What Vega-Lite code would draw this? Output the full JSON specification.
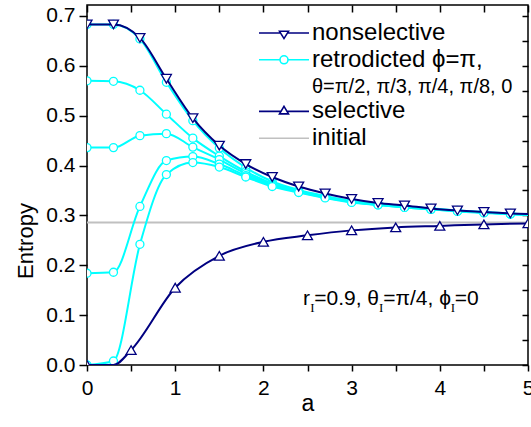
{
  "$schema": "https://vega.github.io/schema/vega-lite/v6.json",
  "width": 441,
  "height": 360,
  "autosize": {"type": "none"},
  "padding": {"left": 87, "top": 5, "right": 3, "bottom": 62},
  "background": "white",
  "config": {
    "view": {"stroke": "black", "strokeWidth": 1.5},
    "font": "Liberation Sans",
    "axis": {
      "labelFont": "Liberation Sans", "labelFontSize": 21, "labelColor": "black",
      "titleFont": "Liberation Sans", "titleFontWeight": "normal", "titleColor": "black",
      "tickColor": "black", "tickWidth": 1.5, "domain": false, "grid": false,
      "labelOverlap": false, "labelFlush": false, "labelBound": false
    }
  },
  "datasets": {
    "curves": [
      {"series": "nonselective", "kind": "nonselective", "a": 0.0, "S": 0.683},
      {"series": "nonselective", "kind": "nonselective", "a": 0.3, "S": 0.683},
      {"series": "nonselective", "kind": "nonselective", "a": 0.6, "S": 0.656},
      {"series": "nonselective", "kind": "nonselective", "a": 0.9, "S": 0.574},
      {"series": "nonselective", "kind": "nonselective", "a": 1.2, "S": 0.495},
      {"series": "nonselective", "kind": "nonselective", "a": 1.5, "S": 0.440},
      {"series": "nonselective", "kind": "nonselective", "a": 1.8, "S": 0.403},
      {"series": "nonselective", "kind": "nonselective", "a": 2.1, "S": 0.377},
      {"series": "nonselective", "kind": "nonselective", "a": 2.4, "S": 0.358},
      {"series": "nonselective", "kind": "nonselective", "a": 2.7, "S": 0.344},
      {"series": "nonselective", "kind": "nonselective", "a": 3.0, "S": 0.333},
      {"series": "nonselective", "kind": "nonselective", "a": 3.3, "S": 0.325},
      {"series": "nonselective", "kind": "nonselective", "a": 3.6, "S": 0.320},
      {"series": "nonselective", "kind": "nonselective", "a": 3.9, "S": 0.314},
      {"series": "nonselective", "kind": "nonselective", "a": 4.2, "S": 0.310},
      {"series": "nonselective", "kind": "nonselective", "a": 4.5, "S": 0.307},
      {"series": "nonselective", "kind": "nonselective", "a": 4.8, "S": 0.304},
      {"series": "nonselective", "kind": "nonselective", "a": 5.0, "S": 0.303},

      {"series": "θ=π/2", "kind": "retrodicted", "a": 0.0, "S": 0.683},
      {"series": "θ=π/2", "kind": "retrodicted", "a": 0.3, "S": 0.683},
      {"series": "θ=π/2", "kind": "retrodicted", "a": 0.6, "S": 0.654},
      {"series": "θ=π/2", "kind": "retrodicted", "a": 0.9, "S": 0.567},
      {"series": "θ=π/2", "kind": "retrodicted", "a": 1.2, "S": 0.490},
      {"series": "θ=π/2", "kind": "retrodicted", "a": 1.5, "S": 0.435},
      {"series": "θ=π/2", "kind": "retrodicted", "a": 1.8, "S": 0.396},
      {"series": "θ=π/2", "kind": "retrodicted", "a": 2.1, "S": 0.368},
      {"series": "θ=π/2", "kind": "retrodicted", "a": 2.4, "S": 0.351},
      {"series": "θ=π/2", "kind": "retrodicted", "a": 2.7, "S": 0.339},
      {"series": "θ=π/2", "kind": "retrodicted", "a": 3.0, "S": 0.329},
      {"series": "θ=π/2", "kind": "retrodicted", "a": 3.3, "S": 0.323},
      {"series": "θ=π/2", "kind": "retrodicted", "a": 3.6, "S": 0.318},
      {"series": "θ=π/2", "kind": "retrodicted", "a": 3.9, "S": 0.314},
      {"series": "θ=π/2", "kind": "retrodicted", "a": 4.2, "S": 0.310},
      {"series": "θ=π/2", "kind": "retrodicted", "a": 4.5, "S": 0.307},
      {"series": "θ=π/2", "kind": "retrodicted", "a": 4.8, "S": 0.304},
      {"series": "θ=π/2", "kind": "retrodicted", "a": 5.0, "S": 0.302},

      {"series": "θ=π/3", "kind": "retrodicted", "a": 0.0, "S": 0.570},
      {"series": "θ=π/3", "kind": "retrodicted", "a": 0.3, "S": 0.569},
      {"series": "θ=π/3", "kind": "retrodicted", "a": 0.6, "S": 0.551},
      {"series": "θ=π/3", "kind": "retrodicted", "a": 0.9, "S": 0.503},
      {"series": "θ=π/3", "kind": "retrodicted", "a": 1.2, "S": 0.455},
      {"series": "θ=π/3", "kind": "retrodicted", "a": 1.5, "S": 0.419},
      {"series": "θ=π/3", "kind": "retrodicted", "a": 1.8, "S": 0.388},
      {"series": "θ=π/3", "kind": "retrodicted", "a": 2.1, "S": 0.364},
      {"series": "θ=π/3", "kind": "retrodicted", "a": 2.4, "S": 0.349},
      {"series": "θ=π/3", "kind": "retrodicted", "a": 2.7, "S": 0.338},
      {"series": "θ=π/3", "kind": "retrodicted", "a": 3.0, "S": 0.328},
      {"series": "θ=π/3", "kind": "retrodicted", "a": 3.3, "S": 0.322},
      {"series": "θ=π/3", "kind": "retrodicted", "a": 3.6, "S": 0.317},
      {"series": "θ=π/3", "kind": "retrodicted", "a": 3.9, "S": 0.313},
      {"series": "θ=π/3", "kind": "retrodicted", "a": 4.2, "S": 0.309},
      {"series": "θ=π/3", "kind": "retrodicted", "a": 4.5, "S": 0.306},
      {"series": "θ=π/3", "kind": "retrodicted", "a": 4.8, "S": 0.303},
      {"series": "θ=π/3", "kind": "retrodicted", "a": 5.0, "S": 0.302},

      {"series": "θ=π/4", "kind": "retrodicted", "a": 0.0, "S": 0.436},
      {"series": "θ=π/4", "kind": "retrodicted", "a": 0.3, "S": 0.436},
      {"series": "θ=π/4", "kind": "retrodicted", "a": 0.6, "S": 0.460},
      {"series": "θ=π/4", "kind": "retrodicted", "a": 0.9, "S": 0.464},
      {"series": "θ=π/4", "kind": "retrodicted", "a": 1.2, "S": 0.437},
      {"series": "θ=π/4", "kind": "retrodicted", "a": 1.5, "S": 0.412},
      {"series": "θ=π/4", "kind": "retrodicted", "a": 1.8, "S": 0.384},
      {"series": "θ=π/4", "kind": "retrodicted", "a": 2.1, "S": 0.362},
      {"series": "θ=π/4", "kind": "retrodicted", "a": 2.4, "S": 0.348},
      {"series": "θ=π/4", "kind": "retrodicted", "a": 2.7, "S": 0.337},
      {"series": "θ=π/4", "kind": "retrodicted", "a": 3.0, "S": 0.327},
      {"series": "θ=π/4", "kind": "retrodicted", "a": 3.3, "S": 0.322},
      {"series": "θ=π/4", "kind": "retrodicted", "a": 3.6, "S": 0.317},
      {"series": "θ=π/4", "kind": "retrodicted", "a": 3.9, "S": 0.313},
      {"series": "θ=π/4", "kind": "retrodicted", "a": 4.2, "S": 0.309},
      {"series": "θ=π/4", "kind": "retrodicted", "a": 4.5, "S": 0.306},
      {"series": "θ=π/4", "kind": "retrodicted", "a": 4.8, "S": 0.303},
      {"series": "θ=π/4", "kind": "retrodicted", "a": 5.0, "S": 0.302},

      {"series": "θ=π/8", "kind": "retrodicted", "a": 0.0, "S": 0.184},
      {"series": "θ=π/8", "kind": "retrodicted", "a": 0.3, "S": 0.186},
      {"series": "θ=π/8", "kind": "retrodicted", "a": 0.6, "S": 0.318},
      {"series": "θ=π/8", "kind": "retrodicted", "a": 0.9, "S": 0.410},
      {"series": "θ=π/8", "kind": "retrodicted", "a": 1.2, "S": 0.418},
      {"series": "θ=π/8", "kind": "retrodicted", "a": 1.5, "S": 0.403},
      {"series": "θ=π/8", "kind": "retrodicted", "a": 1.8, "S": 0.380},
      {"series": "θ=π/8", "kind": "retrodicted", "a": 2.1, "S": 0.360},
      {"series": "θ=π/8", "kind": "retrodicted", "a": 2.4, "S": 0.347},
      {"series": "θ=π/8", "kind": "retrodicted", "a": 2.7, "S": 0.336},
      {"series": "θ=π/8", "kind": "retrodicted", "a": 3.0, "S": 0.327},
      {"series": "θ=π/8", "kind": "retrodicted", "a": 3.3, "S": 0.321},
      {"series": "θ=π/8", "kind": "retrodicted", "a": 3.6, "S": 0.316},
      {"series": "θ=π/8", "kind": "retrodicted", "a": 3.9, "S": 0.312},
      {"series": "θ=π/8", "kind": "retrodicted", "a": 4.2, "S": 0.309},
      {"series": "θ=π/8", "kind": "retrodicted", "a": 4.5, "S": 0.306},
      {"series": "θ=π/8", "kind": "retrodicted", "a": 4.8, "S": 0.303},
      {"series": "θ=π/8", "kind": "retrodicted", "a": 5.0, "S": 0.301},

      {"series": "θ=0", "kind": "retrodicted", "a": 0.0, "S": 0.000},
      {"series": "θ=0", "kind": "retrodicted", "a": 0.3, "S": 0.008},
      {"series": "θ=0", "kind": "retrodicted", "a": 0.6, "S": 0.242},
      {"series": "θ=0", "kind": "retrodicted", "a": 0.9, "S": 0.382},
      {"series": "θ=0", "kind": "retrodicted", "a": 1.2, "S": 0.406},
      {"series": "θ=0", "kind": "retrodicted", "a": 1.5, "S": 0.397},
      {"series": "θ=0", "kind": "retrodicted", "a": 1.8, "S": 0.377},
      {"series": "θ=0", "kind": "retrodicted", "a": 2.1, "S": 0.358},
      {"series": "θ=0", "kind": "retrodicted", "a": 2.4, "S": 0.346},
      {"series": "θ=0", "kind": "retrodicted", "a": 2.7, "S": 0.335},
      {"series": "θ=0", "kind": "retrodicted", "a": 3.0, "S": 0.326},
      {"series": "θ=0", "kind": "retrodicted", "a": 3.3, "S": 0.321},
      {"series": "θ=0", "kind": "retrodicted", "a": 3.6, "S": 0.316},
      {"series": "θ=0", "kind": "retrodicted", "a": 3.9, "S": 0.312},
      {"series": "θ=0", "kind": "retrodicted", "a": 4.2, "S": 0.308},
      {"series": "θ=0", "kind": "retrodicted", "a": 4.5, "S": 0.305},
      {"series": "θ=0", "kind": "retrodicted", "a": 4.8, "S": 0.303},
      {"series": "θ=0", "kind": "retrodicted", "a": 5.0, "S": 0.301},

      {"series": "selective", "kind": "selective", "a": 0.0, "S": 0.000},
      {"series": "selective", "kind": "selective", "a": 0.3, "S": 0.000},
      {"series": "selective", "kind": "selective", "a": 0.5, "S": 0.030},
      {"series": "selective", "kind": "selective", "a": 1.0, "S": 0.155},
      {"series": "selective", "kind": "selective", "a": 1.5, "S": 0.219},
      {"series": "selective", "kind": "selective", "a": 2.0, "S": 0.247},
      {"series": "selective", "kind": "selective", "a": 2.5, "S": 0.260},
      {"series": "selective", "kind": "selective", "a": 3.0, "S": 0.270},
      {"series": "selective", "kind": "selective", "a": 3.5, "S": 0.276},
      {"series": "selective", "kind": "selective", "a": 4.0, "S": 0.279},
      {"series": "selective", "kind": "selective", "a": 4.5, "S": 0.282},
      {"series": "selective", "kind": "selective", "a": 5.0, "S": 0.284},

      {"series": "initial", "kind": "initial", "a": 0.0, "S": 0.286},
      {"series": "initial", "kind": "initial", "a": 5.0, "S": 0.286}
    ]
  },
  "layer": [
    {
      "data": {"name": "curves"},
      "transform": [{"filter": "datum.kind == 'initial'"}],
      "mark": {"type": "line", "stroke": "#c0c0c0", "strokeWidth": 2, "clip": true},
      "encoding": {
        "x": {
          "field": "a", "type": "quantitative",
          "scale": {"domain": [0, 5], "nice": false, "zero": false},
          "axis": {"orient": "top", "values": [0, 0.5, 1, 1.5, 2, 2.5, 3, 3.5, 4, 4.5, 5], "labels": false, "tickSize": -7, "title": null}
        },
        "y": {
          "field": "S", "type": "quantitative",
          "scale": {"domain": [0, 0.722], "nice": false, "zero": false},
          "axis": {"orient": "right", "values": [0, 0.05, 0.1, 0.15, 0.2, 0.25, 0.3, 0.35, 0.4, 0.45, 0.5, 0.55, 0.6, 0.65, 0.7], "labels": false, "tickSize": -6, "title": null}
        }
      }
    },
    {
      "layer": [
        {
          "data": {"name": "curves"},
          "transform": [{"filter": "datum.kind == 'retrodicted'"}],
          "mark": {"type": "line", "stroke": "#00ffff", "strokeWidth": 2, "interpolate": "monotone", "clip": true},
          "encoding": {
            "x": {
              "field": "a", "type": "quantitative",
              "scale": {"domain": [0, 5], "nice": false, "zero": false},
              "axis": {
                "orient": "bottom",
                "values": [0, 0.5, 1, 1.5, 2, 2.5, 3, 3.5, 4, 4.5, 5],
                "labelExpr": "datum.value % 1 == 0 ? format(datum.value, 'd') : ''",
                "tickSize": 6, "labelPadding": 6,
                "title": "a", "titleFontSize": 23, "titleX": 220.5, "titleY": 45.5, "titleBaseline": "alphabetic", "titleAlign": "center"
              }
            },
            "y": {
              "field": "S", "type": "quantitative",
              "scale": {"domain": [0, 0.722], "nice": false, "zero": false},
              "axis": {
                "orient": "left",
                "values": [0, 0.05, 0.1, 0.15, 0.2, 0.25, 0.3, 0.35, 0.4, 0.45, 0.5, 0.55, 0.6, 0.65, 0.7],
                "labelExpr": "abs(datum.value * 10 - round(datum.value * 10)) < 0.001 ? format(datum.value, '.1f') : ''",
                "tickSize": {"condition": {"test": "abs(datum.value * 10 - round(datum.value * 10)) < 0.001", "value": 8}, "value": 5},
                "labelPadding": 4,
                "title": "Entropy", "titleFontSize": 22, "titleAngle": -90, "titleX": -54.5, "titleY": 235.5, "titleBaseline": "alphabetic", "titleAlign": "center"
              }
            },
            "detail": {"field": "series"}
          }
        },
        {
          "data": {"name": "curves"},
          "transform": [{"filter": "datum.kind == 'retrodicted' && datum.a < 4.9"}],
          "mark": {"type": "point", "shape": "circle", "size": 64, "filled": true, "fill": "white", "stroke": "#00ffff", "strokeWidth": 1.3, "opacity": 1, "clip": true},
          "encoding": {
            "x": {"field": "a", "type": "quantitative"},
            "y": {"field": "S", "type": "quantitative"}
          }
        },
        {
          "data": {"name": "curves"},
          "transform": [{"filter": "datum.kind == 'nonselective'"}],
          "mark": {"type": "line", "stroke": "#000080", "strokeWidth": 2, "interpolate": "monotone", "clip": true},
          "encoding": {
            "x": {"field": "a", "type": "quantitative"},
            "y": {"field": "S", "type": "quantitative"}
          }
        },
        {
          "data": {"name": "curves"},
          "transform": [{"filter": "datum.kind == 'nonselective' && datum.a < 4.9"}],
          "mark": {"type": "point", "shape": "triangle-down", "size": 100, "filled": true, "fill": "white", "stroke": "#000080", "strokeWidth": 1.3, "opacity": 1, "clip": true},
          "encoding": {
            "x": {"field": "a", "type": "quantitative"},
            "y": {"field": "S", "type": "quantitative"}
          }
        },
        {
          "data": {"name": "curves"},
          "transform": [{"filter": "datum.kind == 'selective'"}],
          "mark": {"type": "line", "stroke": "#000080", "strokeWidth": 2, "interpolate": "monotone", "clip": true},
          "encoding": {
            "x": {"field": "a", "type": "quantitative"},
            "y": {"field": "S", "type": "quantitative"}
          }
        },
        {
          "data": {"name": "curves"},
          "transform": [{"filter": "datum.kind == 'selective' && datum.a != 0.3"}],
          "mark": {"type": "point", "shape": "triangle-up", "size": 100, "filled": true, "fill": "white", "stroke": "#000080", "strokeWidth": 1.3, "opacity": 1, "clip": true},
          "encoding": {
            "x": {"field": "a", "type": "quantitative"},
            "y": {"field": "S", "type": "quantitative"}
          }
        },
        {
          "data": {"name": "curves"},
          "mark": {"type": "point", "filled": true, "fill": "white", "opacity": 0, "strokeWidth": 1.6},
          "encoding": {
            "x": {"field": "a", "type": "quantitative"},
            "y": {"field": "S", "type": "quantitative"},
            "shape": {
              "field": "kind", "type": "nominal",
              "scale": {
                "domain": ["nonselective", "retrodicted", "theta", "selective", "initial"],
                "range": [
                  "M-5,0L-0.7,0M0.7,0L5,0M-0.9,-0.34L0.9,-0.34L0,1.12Z",
                  "M-5,0L-0.8,0M0.8,0L5,0M-0.8,0A0.8,0.8,0,1,1,0.8,0A0.8,0.8,0,1,1,-0.8,0Z",
                  "M0,0",
                  "M-5,0L-0.6,0M0.6,0L5,0M0,-1L0.9,0.5L-0.9,0.5Z",
                  "M-5,0L5,0"
                ]
              },
              "legend": {
                "orient": "none", "legendX": 165, "legendY": 16, "title": null, "padding": 0,
                "symbolSize": 100, "symbolStrokeWidth": 1.6, "symbolOffset": 20, "symbolFillColor": "white", "symbolOpacity": 1,
                "labelOffset": 16, "labelFont": "Liberation Sans", "labelColor": "black", "labelLimit": 400,
                "labelFontSize": {"expr": "datum.value == 'theta' ? 20 : 24"},
                "rowPadding": 2.8,
                "labelExpr": "datum.value == 'retrodicted' ? 'retrodicted ϕ=π,' : datum.value == 'theta' ? 'θ=π/2, π/3, π/4, π/8, 0' : datum.label"
              }
            },
            "stroke": {
              "field": "kind", "type": "nominal",
              "scale": {
                "domain": ["nonselective", "retrodicted", "theta", "selective", "initial"],
                "range": ["#000080", "#00ffff", "rgba(0,0,0,0)", "#000080", "#c0c0c0"]
              }
            }
          }
        },
        {
          "data": {"values": [{}]},
          "mark": {"type": "text", "text": "r", "align": "left", "baseline": "alphabetic", "fontSize": 21, "font": "Liberation Sans", "color": "black"},
          "encoding": {"x": {"datum": 2.449}, "y": {"datum": 0.1195}}
        },
        {
          "data": {"values": [{}]},
          "mark": {"type": "text", "text": "=0.9, θ", "align": "left", "baseline": "alphabetic", "fontSize": 21, "font": "Liberation Sans", "color": "black"},
          "encoding": {"x": {"datum": 2.576}, "y": {"datum": 0.1195}}
        },
        {
          "data": {"values": [{}]},
          "mark": {"type": "text", "text": "=π/4, ϕ", "align": "left", "baseline": "alphabetic", "fontSize": 21, "font": "Liberation Sans", "color": "black"},
          "encoding": {"x": {"datum": 3.359}, "y": {"datum": 0.1195}}
        },
        {
          "data": {"values": [{}]},
          "mark": {"type": "text", "text": "=0", "align": "left", "baseline": "alphabetic", "fontSize": 21, "font": "Liberation Sans", "color": "black"},
          "encoding": {"x": {"datum": 4.17}, "y": {"datum": 0.1195}}
        },
        {
          "data": {"values": [{}]},
          "mark": {"type": "text", "text": "I", "align": "left", "baseline": "alphabetic", "fontSize": 13, "font": "Liberation Serif", "color": "black"},
          "encoding": {"x": {"datum": 2.530}, "y": {"datum": 0.1055}}
        },
        {
          "data": {"values": [{}]},
          "mark": {"type": "text", "text": "I", "align": "left", "baseline": "alphabetic", "fontSize": 13, "font": "Liberation Serif", "color": "black"},
          "encoding": {"x": {"datum": 3.312}, "y": {"datum": 0.1055}}
        },
        {
          "data": {"values": [{}]},
          "mark": {"type": "text", "text": "I", "align": "left", "baseline": "alphabetic", "fontSize": 13, "font": "Liberation Serif", "color": "black"},
          "encoding": {"x": {"datum": 4.123}, "y": {"datum": 0.1055}}
        }
      ]
    }
  ],
  "resolve": {"axis": {"x": "independent", "y": "independent"}}
}
